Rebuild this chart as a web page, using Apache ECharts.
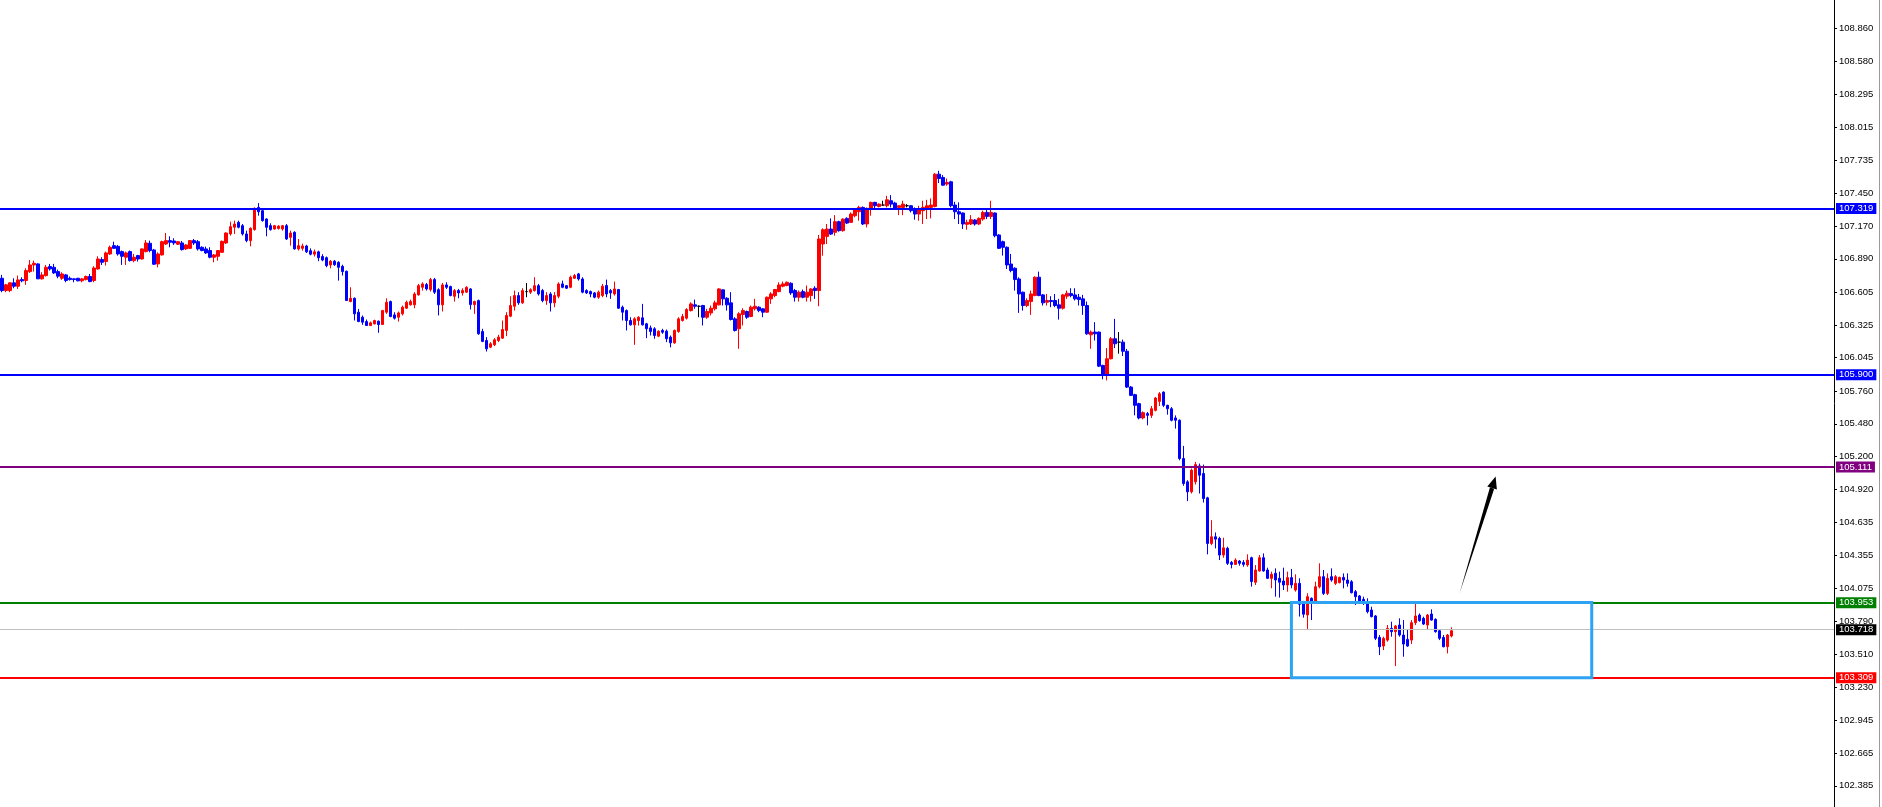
<!DOCTYPE html>
<html>
<head>
<meta charset="utf-8">
<script src="https://cdn.jsdelivr.net/npm/echarts@6/dist/echarts.min.js"></script>
<style>html,body{margin:0;padding:0;background:#fff;}#chart{width:1882px;height:807px;}</style>
</head>
<body>
<div id="chart"></div>
<script>
// ---- data ----
const slotCount = 458;
const categories = Array.from({length: slotCount}, (_, i) => String(i));

// [open, close, low, high]
const candles = [
[106.724,106.619,106.605,106.753],[106.619,106.668,106.605,106.676],[106.619,106.685,106.605,106.690],[106.685,106.656,106.639,106.724],
[106.656,106.710,106.633,106.747],[106.713,106.702,106.690,106.733],[106.705,106.790,106.668,106.810],[106.781,106.838,106.770,106.881],
[106.838,106.852,106.781,106.875],[106.847,106.719,106.719,106.852],[106.719,106.753,106.713,106.776],[106.747,106.818,106.739,106.838],
[106.824,106.804,106.790,106.847],[106.818,106.770,106.761,106.847],[106.781,106.742,106.724,106.798],[106.724,106.761,106.710,106.776],
[106.753,106.705,106.690,106.761],[106.724,106.713,106.705,106.739],[106.719,106.713,106.690,106.724],[106.724,106.702,106.699,106.727],
[106.702,106.719,106.690,106.724],[106.713,106.739,106.705,106.747],[106.739,106.696,106.690,106.761],[106.705,106.812,106.690,106.827],
[106.804,106.889,106.798,106.912],[106.884,106.861,106.838,106.904],[106.867,106.941,106.833,106.952],[106.932,106.989,106.924,107.003],
[107.003,106.980,106.975,107.037],[106.997,106.932,106.918,107.009],[106.952,106.912,106.838,106.961],[106.904,106.941,106.838,106.952],
[106.952,106.875,106.867,106.961],[106.875,106.904,106.861,106.932],[106.918,106.889,106.867,106.924],[106.889,106.975,106.884,106.980],
[106.952,107.026,106.946,107.051],[107.023,106.961,106.946,107.046],[106.966,106.844,106.838,106.975],[106.847,106.932,106.818,106.946],
[106.924,107.037,106.918,107.046],[107.017,107.046,107.009,107.111],[107.046,107.032,106.989,107.083],[107.043,107.026,107.009,107.066],
[107.015,107.037,107.009,107.043],[107.026,106.969,106.961,107.043],[106.975,107.009,106.966,107.015],[106.980,107.046,106.975,107.051],
[107.046,107.026,107.009,107.060],[107.037,106.975,106.961,107.051],[106.989,106.961,106.955,106.997],[106.975,106.941,106.932,106.995],
[106.961,106.904,106.895,106.989],[106.904,106.924,106.861,106.932],[106.912,106.961,106.875,106.966],[106.946,107.040,106.941,107.046],
[107.026,107.111,107.017,107.117],[107.103,107.165,107.089,107.208],[107.160,107.188,107.103,107.217],[107.202,107.160,107.151,107.217],
[107.174,107.103,107.089,107.188],[107.103,107.046,107.032,107.131],[107.046,107.151,106.997,107.160],[107.140,107.322,107.131,107.330],
[107.330,107.293,107.259,107.367],[107.302,107.217,107.208,107.310],[107.231,107.160,107.083,107.236],[107.174,107.140,107.131,107.194],
[107.145,107.174,107.140,107.180],[107.150,107.170,107.140,107.177],[107.145,107.174,107.131,107.180],[107.174,107.060,107.052,107.188],
[107.074,107.111,107.003,107.131],[107.117,106.975,106.969,107.126],[106.975,107.003,106.961,107.060],[106.980,107.000,106.960,107.020],
[107.000,106.950,106.940,107.010],[106.960,106.930,106.920,106.980],[106.930,106.950,106.910,106.970],[106.950,106.900,106.870,106.960],
[106.910,106.880,106.870,106.930],[106.900,106.832,106.818,106.910],[106.838,106.870,106.809,106.880],[106.870,106.840,106.830,106.880],
[106.860,106.818,106.704,106.870],[106.826,106.781,106.747,106.840],[106.784,106.534,106.534,106.790],[106.525,106.553,106.519,106.647],
[106.553,106.420,106.363,106.560],[106.434,106.354,106.349,106.462],[106.391,106.349,106.326,106.406],[106.354,106.320,106.318,106.371],
[106.320,106.343,106.315,106.354],[106.334,106.363,106.330,106.370],[106.357,106.329,106.258,106.363],[106.329,106.448,106.326,106.454],
[106.434,106.519,106.420,106.553],[106.525,106.397,106.391,106.533],[106.411,106.383,106.371,106.434],[106.391,106.428,106.354,106.440],
[106.420,106.477,106.406,106.491],[106.468,106.519,106.462,106.533],[106.497,106.525,106.490,106.542],[106.497,106.590,106.468,106.605],
[106.582,106.661,106.576,106.676],[106.647,106.676,106.619,106.690],[106.670,106.633,106.619,106.684],[106.627,106.713,106.610,106.727],
[106.713,106.605,106.590,106.727],[106.627,106.497,106.406,106.639],[106.497,106.667,106.440,106.684],[106.667,106.647,106.633,106.690],
[106.653,106.576,106.570,106.661],[106.570,106.619,106.525,106.633],[106.619,106.599,106.553,106.633],[106.599,106.619,106.576,106.639],
[106.605,106.647,106.599,106.656],[106.633,106.499,106.457,106.639],[106.499,106.525,106.420,106.533],[106.533,106.249,106.241,106.542],
[106.269,106.184,106.178,106.292],[106.192,106.121,106.098,106.221],[106.135,106.164,106.127,106.178],[106.155,106.198,106.144,106.212],
[106.192,106.221,106.178,106.241],[106.212,106.286,106.206,106.363],[106.278,106.406,106.229,106.434],[106.400,106.491,106.391,106.570],
[106.485,106.576,106.448,106.619],[106.576,106.514,106.497,106.605],[106.514,106.619,106.505,106.639],[106.610,106.610,106.562,106.684],
[106.605,106.627,106.590,106.639],[106.619,106.661,106.610,106.733],[106.661,106.590,106.576,106.676],[106.619,106.533,106.519,106.633],
[106.533,106.576,106.497,106.605],[106.590,106.514,106.440,106.605],[106.514,106.576,106.477,106.605],[106.570,106.676,106.553,106.690],
[106.676,106.647,106.639,106.704],[106.661,106.639,106.633,106.667],[106.647,106.733,106.639,106.747],[106.724,106.747,106.718,106.761],
[106.761,106.718,106.704,106.770],[106.718,106.605,106.596,106.733],[106.619,106.599,106.590,106.630],[106.610,106.590,106.562,106.619],
[106.599,106.562,106.553,106.605],[106.562,106.605,106.548,106.619],[106.576,106.656,106.562,106.676],[106.662,106.590,106.562,106.713],
[106.619,106.599,106.548,106.633],[106.590,106.633,106.576,106.696],[106.628,106.468,106.463,106.633],[106.477,106.434,106.363,106.491],
[106.448,106.363,106.278,106.457],[106.363,106.326,106.320,106.391],[106.326,106.377,106.155,106.391],[106.363,106.391,106.320,106.400],
[106.386,106.326,106.320,106.505],[106.335,106.292,106.212,106.343],[106.300,106.269,106.235,106.320],[106.292,106.235,106.207,106.306],
[106.229,106.272,106.221,106.278],[106.278,106.263,106.249,106.292],[106.272,106.207,106.178,106.286],[106.221,106.172,106.133,106.235],
[106.172,106.278,106.164,106.286],[106.269,106.377,106.258,106.391],[106.363,106.397,106.354,106.420],[106.383,106.457,106.371,106.468],
[106.448,106.505,106.440,106.519],[106.497,106.485,106.463,106.542],[106.485,106.485,106.391,106.491],[106.491,106.391,106.320,106.497],
[106.391,106.440,106.377,106.463],[106.428,106.468,106.406,106.491],[106.463,106.514,106.448,106.533],[106.497,106.633,106.491,106.639],
[106.625,106.548,106.491,106.628],[106.553,106.497,106.448,106.562],[106.514,106.372,106.363,106.605],[106.377,106.278,106.269,106.391],
[106.292,106.420,106.121,106.434],[106.414,106.448,106.320,106.468],[106.440,106.391,106.377,106.448],[106.397,106.477,106.391,106.491],
[106.463,106.485,106.448,106.548],[106.477,106.448,106.434,106.485],[106.463,106.434,106.391,106.468],[106.434,106.562,106.428,106.568],
[106.548,106.590,106.505,106.605],[106.576,106.628,106.562,106.633],[106.610,106.667,106.605,106.690],[106.656,106.676,106.647,106.696],
[106.662,106.690,106.656,106.696],[106.681,106.599,106.582,106.690],[106.619,106.562,106.525,106.633],[106.562,106.605,106.525,106.619],
[106.610,106.562,106.553,106.628],[106.562,106.605,106.525,106.662],[106.576,106.633,106.525,106.639],[106.639,106.619,106.548,106.656],
[106.619,107.060,106.485,107.094],[107.017,107.139,106.917,107.151],[107.082,107.145,107.017,107.188],[107.145,107.102,107.094,107.236],
[107.117,107.208,107.088,107.264],[107.208,107.131,107.122,107.216],[107.131,107.230,107.122,107.236],[107.236,107.196,107.188,107.245],
[107.202,107.273,107.196,107.287],[107.259,107.307,107.245,107.316],[107.293,107.330,107.216,107.344],[107.330,107.188,107.179,107.338],
[107.188,107.321,107.159,107.330],[107.316,107.373,107.259,107.378],[107.373,107.344,107.310,107.378],[107.338,107.358,107.330,107.365],
[107.350,107.350,107.344,107.387],[107.344,107.395,107.330,107.429],[107.387,107.358,107.330,107.435],[107.367,107.321,107.316,107.378],
[107.330,107.344,107.264,107.350],[107.330,107.358,107.264,107.387],[107.344,107.344,107.330,107.358],[107.344,107.302,107.287,107.350],
[107.310,107.273,107.225,107.330],[107.273,107.316,107.216,107.344],[107.302,107.330,107.188,107.387],[107.321,107.344,107.230,107.395],
[107.330,107.350,107.236,107.407],[107.338,107.614,107.330,107.623],[107.614,107.577,107.538,107.643],[107.586,107.520,107.515,107.606],
[107.529,107.543,107.515,107.577],[107.549,107.344,107.330,107.557],[107.350,107.293,107.230,107.378],[107.293,107.273,107.188,107.373],
[107.282,107.188,107.145,107.287],[107.185,107.202,107.139,107.225],[107.188,107.225,107.179,107.264],[107.222,107.188,107.174,107.230],
[107.188,107.236,107.179,107.245],[107.230,107.287,107.216,107.302],[107.287,107.253,107.230,107.321],[107.253,107.287,107.230,107.387],
[107.282,107.088,107.074,107.287],[107.094,106.980,106.974,107.102],[107.037,106.989,106.918,107.046],[106.989,106.838,106.804,106.997],
[106.846,106.790,106.775,106.932],[106.810,106.713,106.619,106.818],[106.718,106.590,106.428,106.733],[106.605,106.491,106.448,106.610],
[106.491,106.534,106.477,106.553],[106.525,106.590,106.411,106.619],[106.576,106.733,106.571,106.741],[106.733,106.576,106.571,106.781],
[106.582,106.514,106.491,106.590],[106.519,106.534,106.491,106.590],[106.534,106.525,106.477,106.571],[106.534,106.491,106.477,106.590],
[106.497,106.468,106.371,106.548],[106.468,106.582,106.457,106.590],[106.571,106.596,106.548,106.619],[106.593,106.576,106.562,106.639],
[106.582,106.548,106.534,106.639],[106.562,106.542,106.491,106.590],[106.548,106.491,106.411,106.582],[106.491,106.249,106.241,106.525],
[106.241,106.264,106.121,106.278],[106.264,106.249,106.192,106.349],[106.264,105.973,105.965,106.269],[105.979,105.894,105.860,105.985],
[105.894,106.036,105.851,106.127],[106.036,106.207,106.030,106.221],[106.207,106.164,106.127,106.377],[106.178,106.178,106.079,106.264],
[106.178,106.100,106.060,106.200],[106.100,105.794,105.786,106.120],[105.794,105.723,105.717,105.803],[105.729,105.638,105.552,105.737],
[105.652,105.530,105.518,105.660],[105.530,105.575,105.518,105.586],[105.567,105.552,105.467,105.581],[105.552,105.609,105.530,105.632],
[105.595,105.700,105.586,105.709],[105.672,105.737,105.632,105.751],[105.751,105.638,105.623,105.757],[105.638,105.609,105.558,105.643],
[105.609,105.510,105.501,105.623],[105.530,105.510,105.439,105.552],[105.510,105.183,105.168,105.518],[105.183,104.969,104.950,105.291],
[104.984,104.898,104.819,104.998],[104.898,105.083,104.884,105.097],[104.984,105.131,104.961,105.154],[105.120,105.040,104.884,105.140],
[105.055,104.841,104.807,105.131],[104.847,104.457,104.364,104.856],[104.457,104.514,104.443,104.656],[104.514,104.494,104.415,104.551],
[104.500,104.358,104.315,104.514],[104.358,104.420,104.335,104.506],[104.415,104.287,104.273,104.429],[104.295,104.278,104.244,104.307],
[104.278,104.315,104.273,104.330],[104.307,104.287,104.267,104.315],[104.295,104.278,104.258,104.315],[104.273,104.315,104.258,104.364],
[104.335,104.131,104.088,104.344],[104.125,104.230,104.102,104.273],[104.222,104.335,104.216,104.358],[104.335,104.222,104.216,104.372],
[104.230,104.159,104.153,104.250],[104.159,104.193,104.074,104.216],[104.202,104.145,104.002,104.244],[104.159,104.125,103.994,104.216],
[104.136,104.102,104.059,104.250],[104.102,104.165,104.045,104.216],[104.165,104.102,104.074,104.239],[104.059,104.116,104.045,104.193],
[104.116,103.937,103.832,104.159],[103.945,103.852,103.823,103.966],[103.846,104.002,103.726,104.031],[103.988,103.959,103.802,103.996],
[103.959,104.087,103.945,104.130],[104.087,104.173,104.073,104.287],[104.173,104.030,104.016,104.230],[104.030,104.159,104.016,104.201],
[104.173,104.144,104.130,104.244],[104.116,104.173,104.102,104.187],[104.122,104.167,104.116,104.173],[104.167,104.144,104.073,104.201],
[104.144,104.116,104.087,104.201],[104.130,104.036,104.030,104.144],[104.045,104.002,103.931,104.059],[104.008,103.959,103.945,104.016],
[103.979,103.945,103.931,104.002],[103.951,103.874,103.859,103.988],[103.888,103.831,103.825,103.916],[103.837,103.646,103.631,103.845],
[103.654,103.574,103.503,103.674],[103.580,103.646,103.546,103.660],[103.631,103.731,103.617,103.760],[103.731,103.703,103.660,103.788],
[103.703,103.751,103.409,103.760],[103.760,103.674,103.660,103.817],[103.674,103.597,103.489,103.802],[103.637,103.580,103.574,103.723],
[103.631,103.780,103.597,103.802],[103.780,103.837,103.760,103.945],[103.845,103.797,103.788,103.859],[103.817,103.768,103.760,103.831],
[103.760,103.845,103.723,103.854],[103.854,103.802,103.797,103.894],[103.808,103.703,103.694,103.817],[103.711,103.646,103.631,103.723],
[103.654,103.574,103.569,103.674],[103.574,103.674,103.517,103.683],[103.666,103.711,103.654,103.740]
];

const yTickValues = [108.860,108.580,108.295,108.015,107.735,107.450,107.170,106.890,106.605,106.325,106.045,105.760,
  105.480,105.200,104.920,104.635,104.355,104.075,103.790,103.510,103.230,102.945,102.665,102.385];
const yMin = 102.204, yMax = 109.103;

const levelValues = [107.319, 105.900, 105.111, 103.953, 103.718, 103.309];
const levelColors = ['#0000ff', '#0000ff', '#800080', '#008000', '#c0c0c0', '#ff0000'];
const levelTagColors = ['#0000ff', '#0000ff', '#800080', '#008000', '#000000', '#ff0000'];
const levelWidths = [2, 2, 2, 2, 1, 2];

const boxX = [322, 397];
const boxY = [103.309, 103.953];
const arrowFrom = [364, 104.031];
const arrowTo = [373, 105.029];

// ---- chart ----
const chart = echarts.init(document.getElementById('chart'), null, {renderer: 'canvas'});
const FONT = 'Liberation Sans';

const markLineData = levelValues.map((v, i) => ({
  yAxis: v,
  lineStyle: {color: levelColors[i], width: levelWidths[i], type: 'solid'},
  label: {
    show: true, position: 'end', distance: 2,
    formatter: v.toFixed(3),
    color: '#ffffff', backgroundColor: levelTagColors[i],
    padding: [1, 3, 0, 3], fontSize: 9.5, fontFamily: FONT, lineHeight: 10
  }
}));

chart.setOption({
  animation: false,
  backgroundColor: '#ffffff',
  grid: {left: 0, right: 48, top: 0, bottom: 0},
  xAxis: {
    type: 'category', data: categories, boundaryGap: true,
    axisLine: {show: false}, axisTick: {show: false}, axisLabel: {show: false}, splitLine: {show: false}
  },
  yAxis: {
    type: 'value', position: 'right', min: yMin, max: yMax, scale: true,
    axisLine: {show: true, lineStyle: {color: '#000000', width: 1}},
    axisTick: {show: true, customValues: yTickValues, length: 3, lineStyle: {color: '#000000'}},
    axisLabel: {
      show: true, customValues: yTickValues, margin: 5,
      formatter: v => Number(v).toFixed(3),
      color: '#000000', fontSize: 9.5, fontFamily: FONT
    },
    splitLine: {show: false}
  },
  graphic: [{
    type: 'rect', shape: {x: 1879, y: 0, width: 1, height: 807},
    style: {fill: '#9a9a9a'}, silent: true
  }],
  series: [
    {
      type: 'candlestick',
      data: candles,
      barWidth: 3,
      itemStyle: {
        color: '#ff0000', color0: '#0000ff',
        borderColor: '#ff0000', borderColor0: '#0000ff',
        borderColorDoji: '#000000', borderWidth: 1
      },
      markLine: {
        silent: true, symbol: ['none', 'none'], animation: false,
        data: markLineData
      },
      z: 2
    },
    {
      type: 'custom',
      z: 5, silent: true, clip: false,
      data: [[boxX[0], boxY[0]]],
      renderItem: function (params, api) {
        const p1 = api.coord([boxX[0], boxY[1]]);
        const p2 = api.coord([boxX[1], boxY[0]]);
        const a = api.coord(arrowFrom);
        const b = api.coord(arrowTo);
        const dx = b[0] - a[0], dy = b[1] - a[1];
        const len = Math.sqrt(dx * dx + dy * dy);
        const ux = dx / len, uy = dy / len;
        const nx = -uy, ny = ux;
        const headLen = 12, headHalf = 5, shaftHalf = 2.2;
        const bx = b[0] - ux * headLen, by = b[1] - uy * headLen;
        return {
          type: 'group',
          children: [
            {
              type: 'rect',
              shape: {x: p1[0], y: p1[1], width: p2[0] - p1[0], height: p2[1] - p1[1]},
              style: {fill: 'none', stroke: '#2ea3f2', lineWidth: 3}
            },
            {
              type: 'polygon',
              shape: {points: [a, [bx + nx * shaftHalf, by + ny * shaftHalf], [bx - nx * shaftHalf, by - ny * shaftHalf]]},
              style: {fill: '#000000'}
            },
            {
              type: 'polygon',
              shape: {points: [b, [bx + nx * headHalf, by + ny * headHalf], [bx - nx * headHalf, by - ny * headHalf]]},
              style: {fill: '#000000'}
            }
          ]
        };
      }
    }
  ]
});
</script>
</body>
</html>
